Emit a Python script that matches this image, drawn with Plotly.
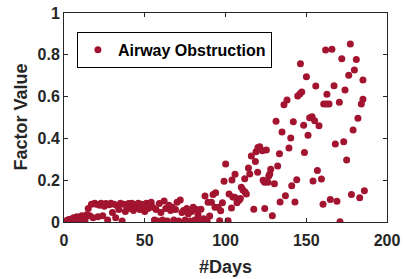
import plotly.graph_objects as go

days_early = list(range(1, 85))
vals_early = [0.003, 0.008, 0.012, 0.006, 0.015, 0.02, 0.01, 0.025, 0.018, 0.012,
              0.03, 0.022, 0.008, 0.035, 0.065, 0.03, 0.085, 0.02, 0.09, 0.085,
              0.025, 0.08, 0.09, 0.03, 0.075, 0.088, 0.01, 0.082, 0.09, 0.045,
              0.085, 0.02, 0.078, 0.06, 0.09, 0.005, 0.085, 0.05, 0.07, 0.088,
              0.065, 0.09, 0.055, 0.082, 0.07, 0.09, 0.06, 0.085, 0.075, 0.05,
              0.09, 0.065, 0.085, 0.095, 0.07, 0.01, 0.06, 0.005, 0.088, 0.045,
              0.01, 0.1, 0.065, 0.005, 0.08, 0.055, 0.07, 0.01, 0.06, 0.095,
              0.005, 0.105, 0.045, 0.055, 0.01, 0.065, 0.04, 0.005, 0.05, 0.07,
              0.01, 0.06, 0.035, 0.005]

days_late = [84.8, 86.5, 87.3, 88.6, 89.2, 90.2, 91.3, 92.3, 93.5, 93.9, 95.4, 96.4,
             97.0, 98.1, 99.1, 100.1, 101.6, 102.2, 103.7, 104.0, 104.5, 105.7, 105.9,
             107.1, 108.4, 109.2, 109.8, 110.8, 111.9, 112.1, 112.9, 114.2, 115.0,
             116.0, 117.5, 118.5, 118.9, 119.9, 120.1, 121.2, 122.8, 123.3, 124.2,
             124.3, 125.3, 126.3, 126.8, 127.4, 128.0, 129.0, 130.3, 131.3, 132.3,
             133.4, 133.8, 135.0, 136.2, 137.1, 138.1, 139.3, 140.4, 141.0, 142.0,
             143.0, 144.1, 144.7, 146.0, 146.4, 147.2, 148.4, 148.9, 150.1, 151.1,
             152.1, 153.6, 154.2, 155.2, 155.9, 156.9, 157.9, 159.4, 160.4, 160.8,
             162.0, 162.5, 162.8, 164.1, 164.9, 165.9, 167.2, 168.0, 169.0, 170.5,
             170.9, 172.0, 173.2, 174.0, 175.0, 176.3, 177.3, 178.0, 179.0, 179.8,
             181.0, 182.0, 183.1, 184.1, 185.1, 185.1, 186.0, 186.8]
vals_late = [0.061, 0.016, 0.124, 0.006, 0.094, 0.029, 0.094, 0.132, 0.070, 0.140,
             0.070, 0.006, 0.054, 0.092, 0.195, 0.278, 0.006, 0.134, 0.067, 0.201,
             0.12, 0.118, 0.228, 0.092, 0.104, 0.113, 0.166, 0.153, 0.207, 0.144,
             0.134, 0.258, 0.230, 0.316, 0.061, 0.290, 0.336, 0.238, 0.357, 0.360,
             0.341, 0.20, 0.19, 0.064, 0.344, 0.19, 0.22, 0.23, 0.252, 0.030, 0.183,
             0.482, 0.268, 0.327, 0.096, 0.431, 0.561, 0.126, 0.584, 0.354, 0.402,
             0.174, 0.480, 0.096, 0.202, 0.603, 0.612, 0.757, 0.622, 0.463, 0.333,
             0.695, 0.415, 0.499, 0.504, 0.196, 0.485, 0.651, 0.246, 0.461, 0.206,
             0.085, 0.565, 0.823, 0.565, 0.611, 0.565, 0.108, 0.826, 0.652, 0.373,
             0.099, 0.573, 0.001, 0.781, 0.384, 0.632, 0.297, 0.702, 0.852, 0.132,
             0.440, 0.727, 0.777, 0.496, 0.116, 0.565, 0.679, 0.587, 0.150]

days = days_early + days_late
values = vals_early + vals_late

x_ticks = [0, 50, 100, 150, 200]
y_ticks = [0, 0.2, 0.4, 0.6, 0.8, 1]
y_tick_labels = ["0", "0.2", "0.4", "0.6", "0.8", "1"]

color = "#A2142F"
axcol = "#262626"
font_family = "Liberation Sans, Arial, sans-serif"

fig = go.Figure()
fig.add_trace(go.Scatter(
    x=days, y=values, mode="markers", name="Airway Obstruction",
    marker=dict(color=color, size=7, line=dict(width=0)),
))

axis_common = dict(
    showline=True, linecolor=axcol, linewidth=1, mirror="ticks",
    ticks="inside", ticklen=4, tickcolor=axcol, tickwidth=1,
    showgrid=False, zeroline=False, automargin=False,
    ticklabeloverflow="allow",
    tickfont=dict(family=font_family, size=16, color=axcol, weight="bold"),
)

title_font = dict(family=font_family, size=18, color=axcol, weight="bold")

fig.update_layout(
    width=404, height=279,
    margin=dict(l=64, r=17, t=13, b=57, autoexpand=False),
    paper_bgcolor="white", plot_bgcolor="white",
    showlegend=True,
    legend=dict(x=0.04, y=0.91, xanchor="left", yanchor="top",
                bordercolor="black", borderwidth=1, bgcolor="white",
                font=dict(family=font_family, size=16, color="black", weight="bold"),
                itemsizing="trace", itemwidth=30, tracegroupgap=0),
    xaxis=dict(range=[0, 200], tickvals=x_ticks, ticklabelstandoff=4, **axis_common),
    yaxis=dict(range=[0, 1], tickvals=y_ticks, ticktext=y_tick_labels, **axis_common),
    annotations=[
        dict(text="#Days", xref="paper", yref="paper", x=0.5, y=-0.215,
             xanchor="center", yanchor="middle", showarrow=False, font=title_font),
        dict(text="Factor Value", xref="paper", yref="paper", x=-0.136, y=0.5,
             xanchor="center", yanchor="middle", textangle=-90, showarrow=False,
             font=title_font),
    ],
)

fig.write_html("out.html", config={"displayModeBar": False},
               post_script="document.body.style.margin='0';")
